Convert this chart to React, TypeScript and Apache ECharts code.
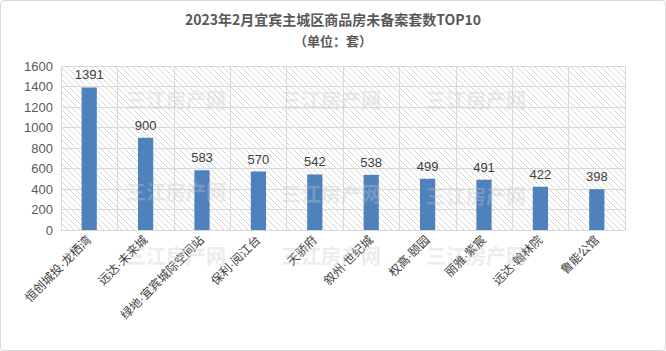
import React, { useEffect, useRef } from "react";
import * as echarts from "echarts";

const categories = [
  "恒创城投·龙栖湾",
  "远达·未来城",
  "绿地·宜宾城际空间站",
  "保利·阅江台",
  "天骄府",
  "叙州·世纪城",
  "权高·颐园",
  "丽雅·紫宸",
  "远达·翰林院",
  "鲁能公馆",
];
const values = [1391, 900, 583, 570, 542, 538, 499, 491, 422, 398];
const yTicks = { min: 0, max: 1600, interval: 200 };
const titleText = "2023年2月宜宾主城区商品房未备案套数TOP10";
const subText = "（单位：套）";
const watermark = "三江房产网";

function makeHatch(): HTMLCanvasElement {
  const c = document.createElement("canvas");
  c.width = 6;
  c.height = 6;
  const ctx = c.getContext("2d")!;
  ctx.fillStyle = "#ffffff";
  ctx.fillRect(0, 0, 6, 6);
  ctx.strokeStyle = "#d6d6d6";
  ctx.lineWidth = 1;
  for (let k = -6; k <= 12; k += 6) {
    ctx.beginPath();
    ctx.moveTo(k, 0);
    ctx.lineTo(k + 6, 6);
    ctx.stroke();
  }
  return c;
}

export default function App() {
  const ref = useRef<HTMLDivElement>(null);
  useEffect(() => {
    document.body.style.margin = "0";
    const chart = echarts.init(ref.current!, null, { renderer: "svg" });
    const font = "'Noto Sans CJK SC', sans-serif";
    const mixFont = "'Liberation Sans', 'Noto Sans CJK SC', sans-serif";
    const wmPos = [
      [125, 88], [280, 88], [425, 88],
      [125, 180], [280, 182], [425, 184],
      [125, 244], [280, 244], [425, 244],
    ];
    chart.setOption({
      animation: false,
      textStyle: { fontFamily: font },
      title: [
        {
          text: titleText,
          left: "center",
          top: 6,
          textStyle: { fontSize: 14, fontWeight: "bold", color: "#595959", fontFamily: font },
        },
        {
          text: subText,
          left: "center",
          top: 28,
          textStyle: { fontSize: 13, fontWeight: "bold", color: "#595959", fontFamily: font },
        },
      ],
      grid: {
        left: 60,
        right: 40,
        top: 65,
        bottom: 120,
        show: true,
        backgroundColor: { image: makeHatch(), repeat: "repeat" },
        borderWidth: 0,
      },
      xAxis: {
        type: "category",
        data: categories,
        axisLine: { lineStyle: { color: "#d9d9d9" } },
        axisTick: { show: false },
        splitLine: { show: true, interval: 0, lineStyle: { color: "#d9d9d9" } },
        axisLabel: {
          interval: 0,
          rotate: 45,
          fontSize: 12,
          color: "#404040",
          margin: 8,
          fontFamily: mixFont,
        },
      },
      yAxis: {
        type: "value",
        min: yTicks.min,
        max: yTicks.max,
        interval: yTicks.interval,
        axisLine: { show: false },
        axisTick: { show: false },
        splitLine: { lineStyle: { color: "#d9d9d9" } },
        axisLabel: {
          fontSize: 13,
          color: "#595959",
          margin: 8,
          fontFamily: mixFont,
          formatter: (v: number) => String(v),
        },
      },
      series: [
        {
          type: "bar",
          data: values,
          barWidth: "27%",
          itemStyle: { color: "#4f81bd" },
          label: {
            show: true,
            position: "top",
            distance: 6,
            fontSize: 13,
            color: "#404040",
            fontFamily: mixFont,
          },
        },
      ],
      graphic: wmPos.map(([x, y]) => ({
        type: "text",
        x,
        y,
        silent: true,
        z: 100,
        style: {
          text: watermark,
          fontSize: 20,
          fontWeight: "bold",
          fill: "rgba(200,200,200,0.35)",
          fontFamily: font,
        },
      })),
    });
    return () => chart.dispose();
  }, []);
  return (
    <div
      style={{
        width: 664,
        height: 349,
        border: "1px solid #d9d9d9",
        borderRadius: 4,
        background: "#fff",
      }}
    >
      <div ref={ref} style={{ width: 664, height: 349 }} />
    </div>
  );
}
